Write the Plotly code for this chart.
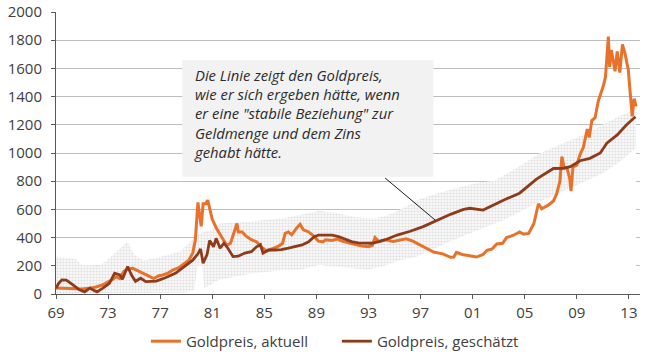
import plotly.graph_objects as go

# ---- data (year, USD/oz) ----
act_x = [1969.0, 1969.5, 1970.0, 1970.5, 1971.0, 1971.5, 1972.0, 1972.5, 1973.0, 1973.3,
         1973.6, 1973.9, 1974.2, 1974.5, 1974.9, 1975.2, 1975.7, 1976.1, 1976.5, 1976.9,
         1977.2, 1977.6, 1978.0, 1978.4, 1978.8, 1979.2, 1979.5, 1979.7, 1979.9, 1980.05,
         1980.15, 1980.3, 1980.5, 1980.65, 1980.8, 1981.0, 1981.3, 1981.7, 1982.1, 1982.4,
         1982.6, 1982.9, 1983.0, 1983.3, 1983.6, 1984.0, 1984.4, 1984.8, 1985.2, 1985.6,
         1986.1, 1986.4, 1986.6, 1986.85, 1987.1, 1987.5, 1987.75, 1988.0, 1988.4, 1988.8,
         1989.15, 1989.5, 1989.7, 1990.2, 1990.6, 1990.95, 1991.5, 1992.0, 1992.5, 1993.0,
         1993.3, 1993.5, 1993.8, 1994.3, 1994.9, 1995.4, 1995.9, 1996.4, 1997.0, 1997.5,
         1998.0, 1998.7, 1999.3, 1999.55, 1999.75, 2000.2, 2000.8, 2001.3, 2001.8, 2002.1,
         2002.5, 2002.85, 2003.3, 2003.6, 2004.1, 2004.6, 2004.9, 2005.3, 2005.7, 2006.05,
         2006.3, 2006.8, 2007.2, 2007.45, 2007.7, 2007.85, 2008.0, 2008.25, 2008.45, 2008.55,
         2008.7, 2009.0, 2009.25, 2009.5, 2009.8, 2009.95, 2010.15, 2010.4, 2010.65, 2010.9,
         2011.05, 2011.2, 2011.3, 2011.42, 2011.52, 2011.65, 2011.8, 2011.93, 2012.1, 2012.3,
         2012.5, 2012.7, 2012.95, 2013.1, 2013.25, 2013.4, 2013.55]
act_y = [42, 40, 36, 36, 35, 40, 48, 62, 85, 100,
         122, 110, 160, 178, 182, 170, 146, 128, 110, 130,
         135, 148, 172, 185, 210, 240, 290, 380, 650, 520,
         480, 640, 640, 666, 600, 530, 470, 410, 345, 360,
         420, 500, 440, 440, 410, 385, 370, 330, 305, 322,
         340, 360, 430, 440, 420, 470, 495, 455, 440, 410,
         375, 370, 385, 380, 390, 375, 360, 350, 340, 335,
         345, 400, 372, 385, 372, 380, 392, 375, 345, 320,
         298, 285, 260, 262, 295, 280, 268, 262, 280, 310,
         320, 355, 360, 400, 415, 440, 425, 430, 500, 640,
         605, 630, 660, 710, 800, 975, 905, 890, 820, 730,
         900, 915, 990, 1040, 1170, 1110, 1230, 1250, 1370, 1440,
         1480, 1540, 1700, 1825, 1610, 1730, 1650, 1580, 1720, 1570,
         1770, 1705, 1590, 1400, 1260, 1385, 1330]

est_x = [1969.0, 1969.2, 1969.45, 1969.8, 1970.3, 1970.8, 1971.2, 1971.6, 1971.85, 1972.15,
         1972.6, 1973.1, 1973.5, 1973.9, 1974.1, 1974.5, 1974.8, 1975.1, 1975.5, 1975.9,
         1976.7, 1977.4, 1978.2, 1979.0, 1979.5, 1979.9, 1980.1, 1980.3, 1980.6, 1980.8,
         1981.1, 1981.3, 1981.6, 1981.9, 1982.2, 1982.6, 1983.0, 1983.5, 1984.0, 1984.4,
         1984.7, 1984.9, 1985.3, 1985.8, 1986.3, 1986.85, 1987.4, 1987.9, 1988.4, 1988.8,
         1989.15, 1989.7, 1990.2, 1990.7, 1991.2, 1991.7, 1992.2, 1992.7, 1993.25, 1993.8,
         1994.3, 1995.2, 1996.2, 1997.2, 1998.2, 1999.3, 2000.3, 2000.8, 2001.8, 2002.6,
         2003.4, 2004.6, 2005.9, 2007.2, 2008.0, 2008.5, 2009.25, 2010.0, 2010.8, 2011.3,
         2012.1, 2012.8, 2013.5]
est_y = [40, 75, 100, 98, 65, 30, 15, 42, 28, 15,
         42, 76, 148, 135, 105, 195, 135, 90, 112, 88,
         92, 115, 148, 206, 240, 285, 320, 218, 280, 380,
         335, 395, 325, 360, 325, 265, 268, 290, 300, 335,
         350, 290, 312, 312, 315, 325, 336, 348, 370, 405,
         418, 418, 418, 407, 390, 372, 362, 360, 360, 372,
         385, 418, 445, 478, 522, 565, 600, 608, 595, 632,
         667, 715, 815, 890, 892, 903, 945, 962, 1000, 1070,
         1128, 1199, 1257]

band_up_x = [1969.0, 1970.5, 1971.0, 1972.3, 1972.8, 1973.5, 1974.1, 1974.5, 1975.0, 1975.7,
             1976.7, 1977.7, 1978.5, 1979.2, 1980.0, 1981.0, 1981.5, 1984.0, 1986.6, 1988.0,
             1989.2, 1990.5, 1992.0, 1993.5, 1994.5, 1995.5, 1996.7, 1998.0, 1999.3, 2000.5,
             2001.5, 2002.6, 2004.5, 2006.2, 2008.5, 2009.8, 2011.0, 2012.3, 2013.55]
band_up = [265, 250, 205, 200, 230, 290, 335, 370, 280, 240,
           255, 277, 300, 360, 430, 455, 500, 515, 540, 565,
           590, 575, 545, 535, 560, 600, 665, 705, 740, 770,
           790, 800, 900, 1000, 1090, 1140, 1200, 1265, 1310]

band_lo_x = [1969.0, 1979.0, 1979.6, 1979.9, 1980.2, 1980.4, 1981.5, 1984.0, 1986.6, 1987.7,
             1989.2, 1990.3, 1991.7, 1992.9, 1994.1, 1995.4, 1996.7, 1998.0, 1999.3, 2000.8,
             2003.4, 2005.9, 2008.5, 2011.0, 2012.3, 2013.55]
band_lo = [0, 10, 30, 200, 200, 40, 100, 145, 170, 170,
           205, 195, 182, 172, 195, 240, 265, 320, 375, 430,
           525, 643, 750, 856, 938, 1035]

tick_years = [1969, 1973, 1977, 1981, 1985, 1989, 1993, 1997, 2001, 2005, 2009, 2013]
tick_text = ["69", "73", "77", "81", "85", "89", "93", "97", "01", "05", "09", "13"]

note_text = ("Die Linie zeigt den Goldpreis,<br>wie er sich ergeben hätte, wenn<br>"
             "er eine \"stabile Beziehung\" zur<br>Geldmenge und dem Zins<br>gehabt hätte.")

ORANGE = "#E8722C"
BROWN = "#8E3B1C"
FONT = "Open Sans"

fig = go.Figure()

# white underlay hides gridlines below the band's upper edge
fig.add_trace(go.Scatter(x=band_up_x, y=band_up, mode="lines", line=dict(width=0),
                         fill="tozeroy", fillcolor="white", showlegend=False, hoverinfo="skip"))
# hatched band
fig.add_trace(go.Scatter(x=band_lo_x, y=band_lo, mode="lines", line=dict(width=0),
                         showlegend=False, hoverinfo="skip"))
fig.add_trace(go.Scatter(x=band_up_x, y=band_up, mode="lines", line=dict(width=0),
                         fill="tonexty", fillcolor="rgba(0,0,0,0)",
                         fillpattern=dict(shape=".", size=3, solidity=0.5,
                                          fgcolor="#C6C6C6", bgcolor="white"),
                         showlegend=False, hoverinfo="skip"))

fig.add_trace(go.Scatter(x=act_x, y=act_y, mode="lines", name="Goldpreis, aktuell",
                         line=dict(color=ORANGE, width=3)))
fig.add_trace(go.Scatter(x=est_x, y=est_y, mode="lines", name="Goldpreis, geschätzt",
                         line=dict(color=BROWN, width=2.8)))

# annotation box, text and pointer
fig.add_shape(type="rect", xref="x", yref="y", x0=1978.7, x1=1997.98, y0=832, y1=1660,
              fillcolor="#F2F2F2", line=dict(width=0), layer="above")
fig.add_shape(type="line", xref="x", yref="y", x0=1994.27, y0=823, x1=1998.11, y1=525,
              line=dict(color="#1a1a1a", width=1))
fig.add_annotation(x=1979.55, y=1278, xref="x", yref="y", text=note_text, showarrow=False,
                   xanchor="left", yanchor="middle", align="left", borderpad=0,
                   font=dict(family=FONT, size=14.8, color="#2b2b2b", style="italic"))

fig.update_layout(
    width=658, height=364,
    margin=dict(l=56, r=18, t=12, b=70, autoexpand=False),
    paper_bgcolor="white", plot_bgcolor="white",
    font=dict(family=FONT, size=15, color="#404040"),
    showlegend=True,
    legend=dict(orientation="h", xref="container", yref="container",
                x=0.512, xanchor="center", y=0.062, yanchor="middle",
                traceorder="normal",
                font=dict(family=FONT, size=15, color="#404040"),
                entrywidthmode="pixels", entrywidth=146,
                bgcolor="rgba(0,0,0,0)"),
    xaxis=dict(range=[1969, 2013.85], tickvals=tick_years, ticktext=tick_text,
               showgrid=False, zeroline=False, showline=True, linecolor="#595959",
               linewidth=1, ticks="outside", ticklen=4, tickcolor="#595959",
               ticklabelstandoff=1, automargin=False),
    yaxis=dict(range=[0, 2000], dtick=200, showgrid=True, gridcolor="#BDBDBD",
               gridwidth=1, zeroline=False, showline=True, linecolor="#595959",
               linewidth=1, ticks="outside", ticklen=4, tickcolor="#595959",
               ticklabelstandoff=6, automargin=False),
)

fig.write_html("out.html", config={"displayModeBar": False},
               post_script="document.body.style.margin='0';")
